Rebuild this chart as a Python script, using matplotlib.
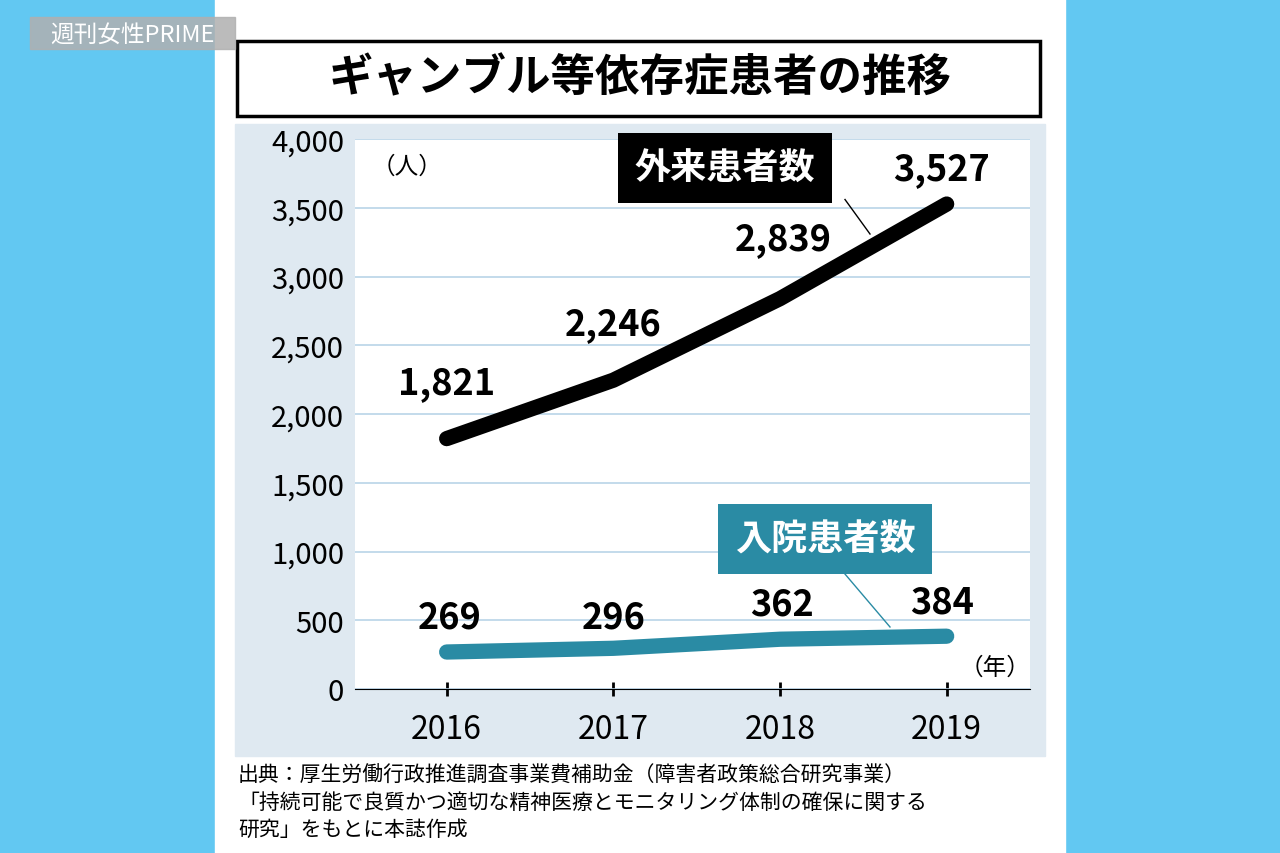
import matplotlib
matplotlib.use("Agg")
import matplotlib.pyplot as plt
from matplotlib.patches import Rectangle

plt.rcParams['font.family'] = ['Noto Sans CJK JP', 'DejaVu Sans']

years = [2016, 2017, 2018, 2019]
year_labels = ["2016", "2017", "2018", "2019"]
outpatients = [1821, 2246, 2839, 3527]
inpatients = [269, 296, 362, 384]
yticks = [0, 500, 1000, 1500, 2000, 2500, 3000, 3500, 4000]

W, H = 1280, 854
fig = plt.figure(figsize=(W/100, H/100), dpi=100)
fig.patch.set_facecolor("#62c8f2")

def fr(x0, y0, x1, y1):
    return [x0/W, 1-y1/H, (x1-x0)/W, (y1-y0)/H]

fig.add_artist(Rectangle((215/W, 0), (1065-215)/W, 1, transform=fig.transFigure, color="white", zorder=0))
fig.add_artist(Rectangle((235/W, 1-757/H), (1045-235)/W, (757-125)/H, transform=fig.transFigure, color="#dfe9f1", zorder=0))
fig.add_artist(Rectangle((237/W, 1-117/H), (1040-237)/W, (117-42)/H, transform=fig.transFigure,
                         facecolor="white", edgecolor="black", lw=2.5, zorder=1))
fig.text(640/W, 1-78/H, "ギャンブル等依存症患者の推移", fontsize=32, fontweight="bold", ha="center", va="center")

fig.add_artist(Rectangle((30/W, 1-50/H), (235-30)/W, 32/H, transform=fig.transFigure, color="#b0b0b0", alpha=0.85, zorder=2))
fig.text(132/W, 1-35/H, "週刊女性PRIME", fontsize=17, color="white", ha="center", va="center", zorder=3)

ax = fig.add_axes(fr(355, 140, 1030, 690))
ax.set_facecolor("white")
ax.set_ylim(0, 4000)
ax.set_xlim(2015.45, 2019.5)
ax.set_yticks(yticks)
ax.set_yticklabels([f"{v:,}" for v in yticks], fontsize=21)
ax.yaxis.grid(True, color="#b9d4e8", lw=1.2)
ax.set_axisbelow(True)
ax.tick_params(axis="y", length=0, pad=8)
ax.set_xticks(years)
ax.set_xticklabels(year_labels, fontsize=23)
ax.tick_params(axis="x", length=10, width=2, direction="inout", pad=12)
for s in ["top", "right", "left"]:
    ax.spines[s].set_visible(False)

ax.plot(years, outpatients, color="black", lw=11, solid_capstyle="round")
ax.plot(years, inpatients, color="#2a8ba4", lw=11, solid_capstyle="round")

offs_out = [(0, 406), (0, 409), (0.02, 440), (-0.03, 255)]
for x, v, (dx, dy) in zip(years, outpatients, offs_out):
    ax.text(x + dx, v + dy, f"{v:,}", fontsize=26, fontweight="bold", ha="center", va="center")
offs_in = [(0.02, 255), (0, 230), (0.01, 256), (-0.03, 249)]
for x, v, (dx, dy) in zip(years, inpatients, offs_in):
    ax.text(x + dx, v + dy, f"{v:,}", fontsize=26, fontweight="bold", ha="center", va="center")

ax.text(2015.55, 3800, "（人）", fontsize=17, va="center")
ax.text(2019.5, 160, "（年）", fontsize=17, va="center", ha="right")

ax.text(2017.67, 3790, "外来患者数", fontsize=26, color="white", fontweight="bold", ha="center", va="center",
        bbox=dict(boxstyle="square,pad=0.45", fc="black", ec="none"))
ax.plot([2018.39, 2018.54], [3560, 3309], color="black", lw=1)
ax.text(2018.27, 1090, "入院患者数", fontsize=26, color="white", fontweight="bold", ha="center", va="center",
        bbox=dict(boxstyle="square,pad=0.45", fc="#2a8ba4", ec="none"))
ax.plot([2018.39, 2018.66], [836, 451], color="#2a8ba4", lw=1)

fig.text(238/W, 1-776/H, "出典：厚生労働行政推進調査事業費補助金（障害者政策総合研究事業）", fontsize=15, va="center")
fig.text(238/W, 1-803/H, "「持続可能で良質かつ適切な精神医療とモニタリング体制の確保に関する", fontsize=15, va="center")
fig.text(238/W, 1-830/H, "研究」をもとに本誌作成", fontsize=15, va="center")

fig.savefig("out.png", dpi=100, facecolor=fig.get_facecolor())
